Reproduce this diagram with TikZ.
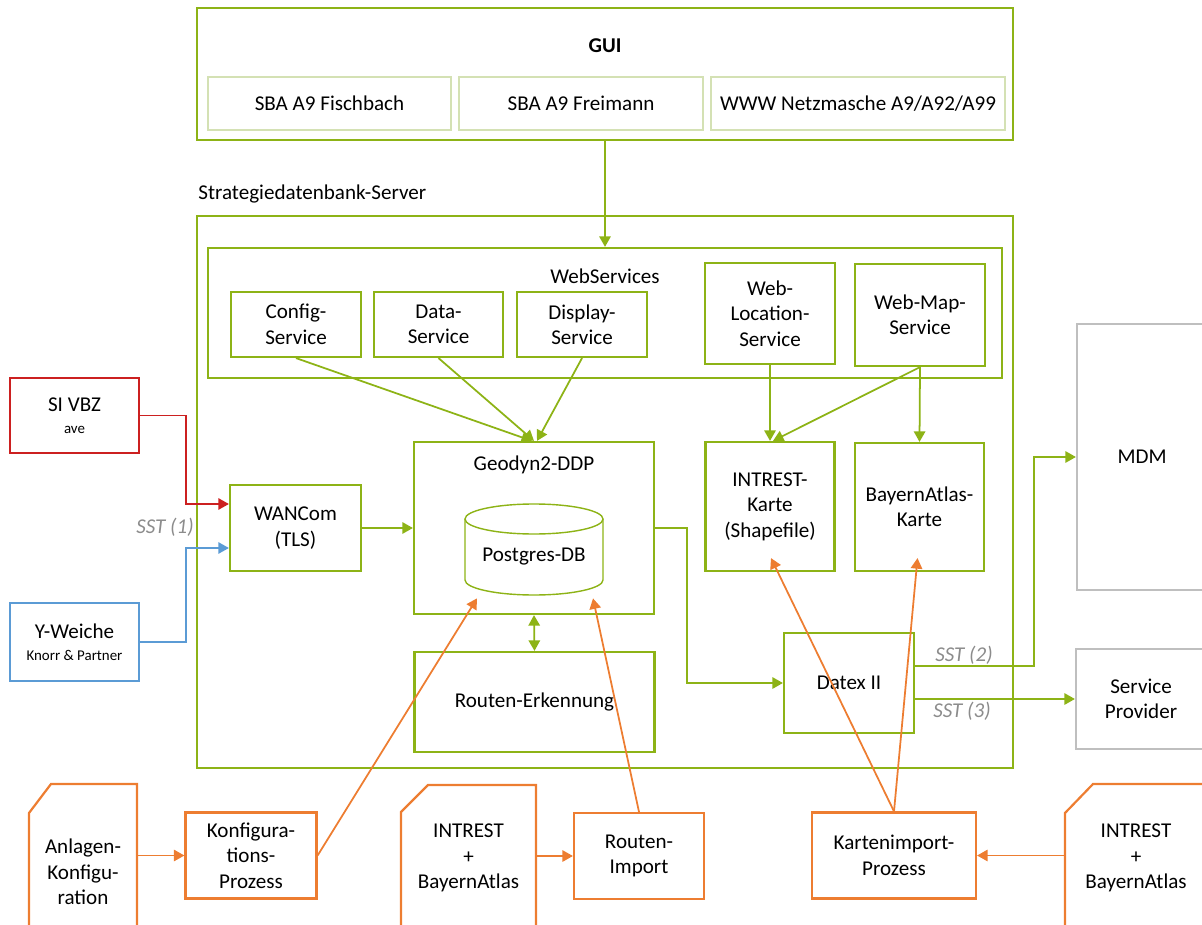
\documentclass[tikz,border=0pt]{standalone}
\usepackage{fontspec}
\setmainfont{Carlito}
\usetikzlibrary{arrows.meta,calc}
\definecolor{sdgreen}{RGB}{141,179,22}
\definecolor{sdlight}{RGB}{212,225,180}
\definecolor{sdorange}{RGB}{237,125,49}
\definecolor{sdred}{RGB}{204,32,32}
\definecolor{sdblue}{RGB}{91,155,213}
\definecolor{sdgray}{RGB}{191,191,191}
\definecolor{sdtext}{RGB}{140,140,140}
\tikzset{
  wh/.style 2 args={minimum width=#1*0.02cm, minimum height=#2*0.02cm},
  gbox/.style={draw=sdgreen, line width=1.25pt, align=center, inner sep=1pt},
  lbox/.style={draw=sdlight, line width=0.6pt, align=center, inner sep=1pt},
  obox/.style={draw=sdorange, line width=1.25pt, align=center, inner sep=1pt},
  xbox/.style={draw=sdgray, line width=1.25pt, align=center, inner sep=1pt},
  doctext/.style={align=center, inner sep=0pt},
  sst/.style={text=sdtext, font=\fontsize{12}{14.5}\selectfont\itshape},
  tip/.style={-{Triangle[length=6pt,width=6.5pt]}},
  garrow/.style={draw=sdgreen, line width=1pt, tip},
  oarrow/.style={draw=sdorange, line width=1pt, tip},
}
\begin{document}
\begin{tikzpicture}[x=0.02cm, y=-0.02cm, font=\fontsize{12}{14.5}\selectfont]
  \useasboundingbox (0,0) rectangle (1202,925);
  \clip (0,0) rectangle (1202,925);
  % GUI
  \node [gbox, wh={816}{132}] (gui) at (605,74) {};
  \node (guilabel) at (605,46) {\bfseries GUI};
  \node [lbox, wh={243}{53}] (fisch) at (329.5,103.5) {SBA A9 Fischbach};
  \node [lbox, wh={244}{53}] (frei) at (581,103.5) {SBA A9 Freimann};
  \node [lbox, wh={294}{53}] (www) at (858,103.5) {WWW Netzmasche A9/A92/A99};
  % server
  \node [anchor=west, inner sep=0pt] (srvlabel) at (198,194) {Strategiedatenbank-Server};
  \node [gbox, wh={816}{552}] (server) at (605,492) {};
  % web services
  \node [gbox, wh={794}{130}] (websvc) at (605,313) {};
  \node (wslabel) at (605,276) {WebServices};
  \node [gbox, wh={130}{65}] (config) at (296,324.5) {Config-\\Service};
  \node [gbox, wh={129}{65}] (data) at (438.5,324.5) {Data-\\Service};
  \node [gbox, wh={130}{65}] (display) at (582,324.5) {Display-\\Service};
  \node [gbox, wh={130}{101}] (wloc) at (770,313.5) {Web-\\Location-\\Service};
  \node [gbox, wh={130}{102}] (wmap) at (920,315) {Web-Map-\\Service};
  % Geodyn2-DDP
  \node [gbox, wh={240}{172}] (geo) at (534,528) {};
  \node (geolabel) at (534,465) {Geodyn2-DDP};
  % database cylinder
  \node [wh={138}{91}, inner sep=0pt] (pg) at (534,549.5) {};
  \draw [sdgreen, line width=0.8pt] (534,519) ellipse [x radius=69, y radius=15];
  \draw [sdgreen, line width=0.8pt] (465,519) -- (465,580)
    arc [start angle=180, end angle=0, x radius=69, y radius=15] -- (603,519);
  \node (pglabel) at (534,557) {Postgres-DB};
  \node [gbox, wh={240}{100}] (rerk) at (534.5,702) {Routen-Erkennung};
  % maps
  \node [gbox, wh={129}{129}] (ikarte) at (770,506.5) {INTREST-\\Karte\\(Shapefile)};
  \node [gbox, wh={129}{128}] (bkarte) at (919.5,507) {BayernAtlas-\\Karte};
  \node [gbox, wh={131}{86}] (wancom) at (295.5,528) {WANCom\\(TLS)};
  \node [gbox, wh={130}{100}] (datex) at (849,683) {Datex II};
  % external systems
  \node [draw=sdred, line width=1.25pt, align=center, wh={129}{75}] (sivbz) at (74.5,415.5)
    {SI VBZ\\[-2pt]{\fontsize{8.5}{10}\selectfont ave}};
  \node [draw=sdblue, line width=1.25pt, align=center, wh={129}{78}] (yw) at (74.5,642)
    {Y-Weiche\\[-2pt]{\fontsize{8.5}{10}\selectfont Knorr \& Partner}};
  \node [xbox, wh={130}{266}] (mdm) at (1142,457) {MDM};
  \node [xbox, wh={130}{100}] (sp) at (1141,699) {Service\\Provider};
  % import processes
  \node [obox, wh={131}{86}] (konf) at (251,855.5) {Konfigura-\\tions-\\Prozess};
  \node [obox, wh={130}{86}] (rimp) at (639,856) {Routen-\\Import};
  \node [obox, wh={164}{86}] (kimp) at (894,855.5) {Kartenimport-\\Prozess};
  % documents
  \draw [sdorange, line width=1.25pt] (29,935) -- (29,813) -- (51,784) -- (137,784) -- (137,935);
  \node [doctext, minimum width=108*0.02cm] (anl) at (83,872) {Anlagen-\\Konfigu-\\ration};
  \draw [sdorange, line width=1.25pt] (401,935) -- (401,812) -- (428,785) -- (536,785) -- (536,935);
  \node [doctext, minimum width=135*0.02cm] (idoc) at (468.5,858) {INTREST\\+\\BayernAtlas};
  \draw [sdorange, line width=1.25pt] (1065,935) -- (1065,813) -- (1093,784) -- (1215,784) -- (1215,935);
  \node [doctext, minimum width=142*0.02cm] (rdoc) at (1136,858) {INTREST\\+\\BayernAtlas};
  % green connectors
  \draw [garrow] (gui.south) -- (websvc.north);
  \draw [garrow] (config.south) -- ($(geo.north)+(-2,0)$);
  \draw [garrow] (data.south) -- (geo.north);
  \draw [garrow] (display.south) -- ($(geo.north)+(3,0)$);
  \draw [garrow] (wloc.south) -- (ikarte.north);
  \draw [garrow] (wmap.south) -- ($(ikarte.north)+(3,0)$);
  \draw [garrow] (wmap.south) -- (bkarte.north);
  \draw [garrow] (wancom.east) -- (geo.west);
  \draw [draw=sdgreen, line width=1pt, {Triangle[length=6pt,width=6.5pt]}-{Triangle[length=6pt,width=6.5pt]}]
    (geo.south) -- (rerk.north);
  \draw [garrow] (geo.east) -- ++(32,0) |- (datex.west);
  \draw [garrow] ($(datex.east)+(0,-17)$) -- ++(119,0) |- (mdm.west);
  \draw [garrow] (datex.east |- sp.west) -- (sp.west);
  \node [sst] (sst1) at (165,527) {SST (1)};
  \node [sst] (sst2) at (964,655) {SST (2)};
  \node [sst] (sst3) at (962,711) {SST (3)};
  % inputs to WANCom
  \draw [draw=sdred, line width=0.8pt, tip] (sivbz.east) -- ++(46,0) |- ($(wancom.west)+(0,-24)$);
  \draw [draw=sdblue, line width=0.8pt, tip] (yw.east) -- ++(46,0) |- ($(wancom.west)+(0,20)$);
  % orange connectors
  \draw [oarrow] (anl.east |- konf.west) -- (konf.west);
  \draw [oarrow] (idoc.east |- rimp.west) -- (rimp.west);
  \draw [oarrow] (rdoc.west |- kimp.east) -- (kimp.east);
  \draw [oarrow] (konf.east) -- ($(pg.south)+(-57,3)$);
  \draw [oarrow] (rimp.north) -- ($(pg.south)+(59,3)$);
  \draw [oarrow] (kimp.north) -- ($(ikarte.south)+(1,-14)$);
  \draw [oarrow] (kimp.north) -- ($(bkarte.south)+(-2,-14)$);
\end{tikzpicture}
\end{document}
